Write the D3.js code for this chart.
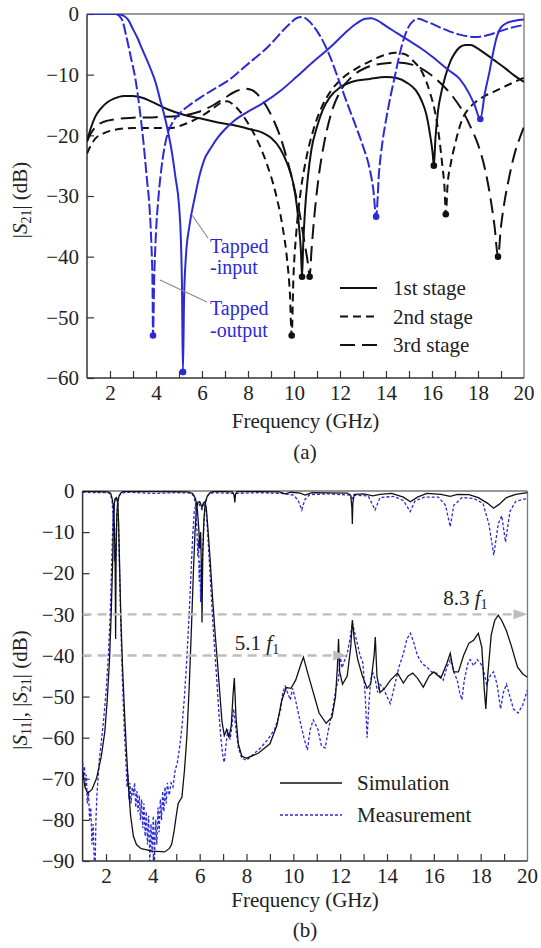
<!DOCTYPE html>
<html><head><meta charset="utf-8">
<script src="https://cdn.jsdelivr.net/npm/d3@7"></script>
<style>
body{margin:0;background:#fff}
svg{display:block}
text{font-family:"Liberation Serif","Times New Roman",serif;fill:#222}
</style>
</head><body>
<svg id="c" width="541" height="948"></svg>
<script>
// ---------- DATA (a) ----------
const tapIn = [[1,0],[2.3,0],[2.6,-0.3],[2.8,-1],[3.0,-2.5],[3.2,-4],[3.4,-5.8],[3.75,-8.9],[4.0,-11.5],[4.17,-14],[4.35,-16.5],[4.5,-19],[4.7,-23],[4.85,-27],[5.0,-31.5],[5.08,-37],[5.13,-45],[5.17,-59],[5.22,-47],[5.3,-40],[5.45,-35],[5.7,-30],[5.9,-26.5],[6.1,-24],[6.4,-22],[6.7,-20.3],[7.0,-19],[7.4,-17.6],[8.0,-16.1],[8.65,-14.7],[9.4,-12.7],[10.1,-10.4],[10.8,-8],[11.6,-5.4],[12.2,-3.2],[12.7,-1.6],[13.1,-0.8],[13.35,-0.7],[13.6,-1],[14.0,-2],[14.5,-3.2],[15.0,-4.4],[15.5,-5.6],[16.0,-7],[16.7,-9.2],[17.2,-10.7],[17.6,-13],[17.85,-15],[18.1,-17.3],[18.3,-13],[18.5,-9.5],[18.65,-6.5],[18.8,-4],[19.0,-2.2],[19.3,-1.4],[19.6,-1.1],[20,-0.9]];
const tapOut = [[1,0],[2.25,0],[2.4,-0.3],[2.55,-1.2],[2.7,-3.5],[2.9,-7],[3.1,-10.6],[3.3,-16],[3.45,-21],[3.6,-27],[3.72,-32],[3.8,-38],[3.85,-45],[3.87,-53],[3.92,-44],[4.0,-36],[4.1,-30.5],[4.25,-25],[4.45,-20.5],[4.7,-18],[5.0,-16.5],[5.5,-14.9],[6.0,-13.6],[6.6,-12.2],[7.2,-10.8],[7.7,-9.2],[8.2,-7.6],[8.65,-6.2],[9.1,-4.5],[9.5,-2.8],[9.85,-1.5],[10.1,-0.7],[10.35,-0.5],[10.6,-1],[10.85,-2],[11.1,-3.4],[11.5,-6.4],[11.9,-10.4],[12.3,-14.6],[12.7,-18.6],[13.0,-21.8],[13.3,-25.7],[13.45,-29],[13.57,-33.4],[13.7,-26],[13.85,-21],[14.0,-17.5],[14.2,-13.5],[14.4,-10],[14.6,-6.5],[14.8,-3.8],[15.0,-2],[15.2,-1.1],[15.4,-0.8],[15.8,-1.3],[16.4,-2.3],[17.2,-3.4],[17.9,-3.8],[18.4,-3.5],[18.9,-2.9],[19.4,-2.3],[20,-1.8]];
const stage1 = [[1,-21],[1.15,-19],[1.35,-17],[1.6,-15.6],[1.9,-14.5],[2.2,-13.9],[2.6,-13.5],[3.0,-13.5],[3.4,-13.8],[3.9,-14.6],[4.5,-15.7],[5.2,-16.6],[5.9,-17.2],[6.6,-17.8],[7.35,-18.3],[8.0,-18.9],[8.65,-19.6],[9.0,-20.4],[9.4,-22.2],[9.7,-24.6],[9.96,-27.8],[10.12,-31.5],[10.23,-35.5],[10.3,-39],[10.35,-43.3],[10.4,-38],[10.48,-32.3],[10.6,-27],[10.75,-22.5],[11.0,-18.6],[11.25,-15.8],[11.56,-13.7],[12.0,-12.1],[12.5,-11.2],[13.3,-10.7],[14.0,-10.4],[14.5,-10.6],[14.9,-11.3],[15.3,-12.6],[15.55,-14.3],[15.75,-16.5],[15.92,-20],[16.03,-23],[16.08,-25],[16.15,-20.5],[16.26,-16],[16.4,-13],[16.57,-10.4],[16.8,-7.8],[17.0,-6.4],[17.2,-5.5],[17.45,-5.1],[17.7,-5.1],[17.95,-5.6],[18.3,-6.5],[18.7,-7.6],[19.2,-9],[19.6,-10.2],[20,-11.2]];
const stage2 = [[1,-23],[1.15,-21.8],[1.35,-20.6],[1.7,-19.7],[2.2,-19.1],[3.0,-18.8],[4.0,-18.8],[4.6,-18.8],[5.35,-18],[6.0,-16.8],[6.5,-15.5],[6.85,-14.6],[7.1,-14.4],[7.35,-14.9],[7.7,-16.3],[8.0,-18],[8.4,-20.8],[8.8,-24.5],[9.2,-29.5],[9.5,-35],[9.7,-40.5],[9.82,-46],[9.9,-53],[9.97,-44],[10.1,-36],[10.3,-29],[10.55,-23.5],[10.85,-19],[11.2,-15.4],[11.6,-12.7],[12.1,-10.6],[12.7,-9],[13.3,-7.8],[13.9,-6.8],[14.4,-6.4],[14.8,-6.6],[15.2,-7.8],[15.6,-9.8],[15.9,-12.8],[16.15,-16.5],[16.3,-20],[16.45,-25],[16.55,-29],[16.6,-33],[16.68,-28],[16.8,-25],[17.0,-21.5],[17.3,-17.5],[17.6,-15.6],[17.9,-14.5],[18.3,-13.5],[18.7,-12.8],[19.3,-11.7],[20,-10.5]];
const stage3 = [[1,-21],[1.15,-19.8],[1.35,-18.7],[1.7,-17.8],[2.3,-17.3],[3.0,-17.1],[4.0,-17],[5.0,-16.8],[5.8,-16.2],[6.5,-15],[7.0,-13.8],[7.5,-12.7],[7.9,-12.3],[8.2,-12.6],[8.5,-13.6],[8.8,-15.2],[9.1,-17.4],[9.4,-20.2],[9.7,-24],[10.0,-28.5],[10.25,-33],[10.45,-37.5],[10.6,-41],[10.68,-43.3],[10.76,-39],[10.88,-33.5],[11.05,-27.5],[11.3,-21.5],[11.6,-16.6],[12.0,-12.8],[12.5,-10.4],[13.1,-8.9],[13.8,-8.2],[14.5,-8],[15.2,-8.4],[15.8,-9.6],[16.4,-11.5],[16.9,-13.6],[17.3,-15.8],[17.7,-18.8],[18.0,-21.5],[18.3,-25.5],[18.55,-30.5],[18.72,-35],[18.87,-40],[19.0,-35],[19.15,-31],[19.35,-27],[19.6,-22.9],[19.8,-20.6],[20,-18.6]];
const blueNulls = [[3.87,-53],[5.17,-59],[13.57,-33.4],[18.1,-17.3]];
const blackNulls = [[9.9,-53],[10.35,-43.3],[10.68,-43.3],[16.08,-25],[16.6,-33],[18.87,-40]];
const legendA = ["1st stage","2nd stage","3rd stage"];
const yTicksA = [-60,-50,-40,-30,-20,-10,0];

// ---------- DATA (b) ----------
const simS11 = [[1,-0.1],[2.1,-0.2],[2.2,-0.6],[2.26,-1.8],[2.32,-4],[2.36,-9],[2.39,-18],[2.41,-36],[2.43,-16],[2.46,-6],[2.5,-2.5],[2.56,-1.2],[2.64,-0.4],[2.75,-0.1],[5.5,-0.2],[5.7,-0.6],[5.82,-1.8],[5.9,-4.5],[5.96,-9],[6.0,-14],[6.04,-10],[6.08,-20],[6.1,-32],[6.13,-16],[6.18,-7],[6.24,-3],[6.32,-1.3],[6.45,-0.4],[6.6,-0.1],[7.4,-0.2],[7.47,-1],[7.5,-2.8],[7.53,-0.8],[7.6,-0.1],[9.4,-0.2],[9.65,-0.7],[9.9,-0.3],[10.3,-0.5],[10.5,-1],[10.8,-0.4],[12.3,-0.5],[12.45,-1],[12.5,-4],[12.52,-8],[12.54,-3],[12.6,-0.8],[13.0,-0.7],[13.4,-1.2],[13.7,-0.8],[14.2,-0.6],[14.7,-1.5],[15.0,-2.6],[15.3,-1.5],[15.7,-0.6],[16.3,-0.8],[16.7,-1.3],[17.0,-0.8],[17.5,-0.9],[17.9,-1.6],[18.3,-3],[18.55,-4.2],[18.8,-3.2],[19.1,-1.6],[19.5,-0.8],[20,-0.4]];
const meaS11 = [[1,-0.3],[1.5,-0.4],[2.1,-0.4],[2.2,-0.8],[2.26,-2.5],[2.3,-6],[2.33,-12],[2.36,-17],[2.39,-13],[2.42,-16],[2.45,-8],[2.5,-3],[2.56,-1.2],[2.65,-0.5],[3,-0.3],[4,-0.6],[5,-0.4],[5.6,-0.5],[5.75,-1.2],[5.83,-3.5],[5.88,-9],[5.92,-16],[5.95,-12],[5.98,-22],[6.01,-17],[6.04,-27],[6.07,-19],[6.1,-24],[6.13,-14],[6.17,-9],[6.22,-4],[6.3,-1.6],[6.4,-0.7],[6.6,-0.4],[7.5,-0.6],[8.5,-0.4],[9.5,-0.6],[10.0,-1],[10.2,-2.2],[10.36,-4.6],[10.5,-2],[10.7,-0.9],[11.5,-0.7],[12.4,-1],[12.52,-1.8],[12.6,-1],[13.2,-1.2],[13.49,-4.6],[13.7,-1.6],[14.3,-1.3],[14.7,-2.3],[14.99,-5],[15.2,-2.4],[15.6,-1.5],[16.2,-1.5],[16.5,-3.5],[16.7,-8.7],[16.85,-3.5],[17.2,-1.6],[17.7,-1.8],[18.1,-3],[18.35,-8],[18.56,-15.6],[18.75,-8],[18.9,-6],[19.06,-12.4],[19.25,-5],[19.5,-2.5],[20,-1.8]];
const simS21 = [[1,-68],[1.1,-72],[1.22,-73.5],[1.4,-72.6],[1.6,-69.8],[1.8,-64.5],[1.95,-58.5],[2.05,-51],[2.15,-41],[2.22,-30],[2.28,-18],[2.32,-8],[2.36,-3],[2.4,-1.8],[2.45,-1.6],[2.5,-2.5],[2.54,-8],[2.58,-18],[2.63,-30],[2.7,-42],[2.8,-55],[2.88,-64],[2.95,-71],[3.05,-79],[3.17,-84],[3.3,-86],[3.5,-87],[4.0,-87.6],[4.5,-87.8],[4.7,-87],[4.8,-86],[4.9,-83],[5.0,-79],[5.08,-76],[5.24,-74.5],[5.35,-68],[5.45,-60],[5.55,-48],[5.65,-33],[5.73,-20],[5.8,-10],[5.86,-4.5],[5.92,-2.8],[6.0,-2.6],[6.06,-3.4],[6.1,-4],[6.15,-3],[6.22,-2.6],[6.28,-4],[6.35,-9],[6.45,-17],[6.55,-26],[6.65,-34],[6.75,-41],[6.87,-50],[6.95,-56],[7.05,-59.5],[7.15,-58],[7.25,-60],[7.35,-57],[7.42,-50],[7.48,-45.5],[7.55,-55],[7.65,-61.5],[7.8,-64.5],[8.0,-65],[8.5,-63.8],[9.0,-61.5],[9.3,-57],[9.5,-51],[9.7,-47.8],[9.9,-48],[10.1,-46],[10.3,-42.5],[10.43,-40.4],[10.6,-44],[10.85,-49],[11.1,-54],[11.4,-56.5],[11.65,-55],[11.8,-50],[11.88,-43],[11.93,-36],[11.98,-44],[12.1,-47],[12.3,-45],[12.45,-38],[12.52,-31.4],[12.6,-36],[12.75,-41],[12.95,-45],[13.15,-48],[13.3,-47],[13.45,-40],[13.5,-35.5],[13.57,-45],[13.7,-49],[13.9,-48],[14.15,-46],[14.45,-44.3],[14.7,-46.7],[14.9,-45],[15.1,-44.3],[15.3,-45.5],[15.55,-47.7],[15.8,-45],[16.0,-44],[16.3,-45.5],[16.55,-42],[16.7,-39.5],[16.85,-44],[17.05,-44],[17.27,-40],[17.5,-37],[17.7,-36.3],[17.9,-34.6],[18.05,-38],[18.15,-48],[18.22,-53],[18.3,-45],[18.45,-35],[18.6,-31.5],[18.75,-30.2],[18.9,-31.5],[19.1,-34],[19.3,-37.5],[19.57,-42.8],[19.8,-44.5],[20,-45.3]];
const meaS21 = [[1,-66],[1.04,-70],[1.08,-67],[1.12,-72],[1.16,-69],[1.2,-76],[1.25,-73],[1.3,-80],[1.35,-77],[1.4,-86],[1.45,-81],[1.5,-90],[1.54,-90],[1.57,-80],[1.61,-74],[1.66,-70],[1.72,-65],[1.8,-61],[1.9,-55.5],[2.0,-49],[2.1,-40],[2.18,-30],[2.25,-16],[2.3,-6],[2.35,-2.5],[2.4,-1.8],[2.45,-1.8],[2.5,-3],[2.54,-10],[2.58,-20],[2.63,-32],[2.7,-46],[2.78,-58],[2.85,-66],[2.9,-72],[2.94,-69],[2.98,-75],[3.02,-71],[3.07,-76],[3.12,-72],[3.17,-74],[3.22,-71],[3.27,-77],[3.32,-73],[3.37,-78],[3.42,-74],[3.47,-80],[3.52,-75],[3.57,-82],[3.62,-76],[3.67,-84],[3.72,-78],[3.77,-86],[3.82,-79],[3.87,-90],[3.92,-81],[3.97,-88],[4.02,-79],[4.07,-90],[4.12,-80],[4.17,-86],[4.22,-77],[4.27,-83],[4.32,-75],[4.37,-80],[4.42,-73],[4.47,-78],[4.52,-72],[4.57,-76],[4.62,-71],[4.7,-74],[4.78,-71],[4.86,-72],[4.95,-68],[5.05,-66],[5.15,-62],[5.25,-57],[5.35,-50],[5.45,-41],[5.55,-30],[5.63,-20],[5.7,-11],[5.77,-5],[5.84,-3],[5.9,-2.7],[5.97,-3],[6.03,-4],[6.1,-4.5],[6.16,-3.2],[6.22,-3],[6.28,-5],[6.34,-10],[6.42,-18],[6.52,-28],[6.62,-37],[6.72,-45],[6.82,-54],[6.92,-61],[7.0,-65],[7.05,-66],[7.12,-62],[7.2,-58],[7.3,-60.5],[7.38,-57],[7.45,-53],[7.55,-58],[7.65,-62.5],[7.8,-65],[8.0,-65.5],[8.3,-64],[8.6,-62.5],[8.9,-60.5],[9.2,-58],[9.45,-53.5],[9.55,-49],[9.65,-47.5],[9.75,-49],[9.87,-50.8],[9.97,-48],[10.1,-51],[10.25,-55],[10.45,-60],[10.6,-63],[10.72,-58],[10.85,-55.7],[11.05,-58],[11.2,-62],[11.36,-62.5],[11.5,-58],[11.7,-52.5],[11.82,-48],[11.93,-46],[12.0,-40],[12.08,-43],[12.2,-41],[12.3,-39.5],[12.42,-36],[12.52,-32],[12.6,-34],[12.7,-36.3],[12.85,-40],[12.97,-41.8],[13.07,-50],[13.15,-60],[13.22,-52.5],[13.3,-46],[13.4,-44.3],[13.5,-46],[13.6,-49],[13.7,-47],[13.85,-48],[14.0,-50],[14.14,-51.7],[14.3,-48],[14.5,-43],[14.7,-39.5],[14.85,-36],[15.0,-34.6],[15.15,-37],[15.3,-40],[15.5,-42],[15.7,-42.8],[15.9,-44],[16.1,-44.3],[16.25,-45],[16.4,-46],[16.55,-43],[16.7,-41],[16.85,-44],[17.0,-46],[17.1,-49],[17.2,-50.8],[17.3,-46],[17.45,-42],[17.55,-41],[17.7,-42.5],[17.85,-41],[17.98,-41.8],[18.1,-43],[18.25,-47],[18.4,-45],[18.55,-44],[18.7,-47],[18.85,-53],[18.97,-49],[19.1,-47],[19.25,-50],[19.4,-53],[19.6,-54],[19.8,-52],[20,-48.4]];
const arrowLevels = [-30,-40];
const arrowEnds = [20,12.3];
const arrowLabels = ["8.3","5.1"];
const arrowLabelPos = [[16.4,-27.7],[7.5,-38.7]];
const legendB = ["Simulation","Measurement"];
const yTicksB = [-90,-80,-70,-60,-50,-40,-30,-20,-10,0];
const xTickVals = d3.range(2,20);

// ---------- DRAW ----------
const svg = d3.select("#c");
const BLUE = "#2b2bd6";
const FS = 21;

function panel(xr, yr, ydom, yticks, id){
  const x = d3.scaleLinear([1,20], xr);
  const y = d3.scaleLinear(ydom, yr);
  const g = svg.append("g");
  g.append("clipPath").attr("id",id).append("rect")
    .attr("x",xr[0]).attr("y",yr[1]).attr("width",xr[1]-xr[0]).attr("height",yr[0]-yr[1]);
  const ax = g.append("g").attr("transform",`translate(0,${yr[0]})`)
    .call(d3.axisBottom(x).tickValues(xTickVals).tickSizeInner(-7).tickSizeOuter(0).tickPadding(7)
      .tickFormat(d=> d%2===0 ? d : ""));
  ax.select(".domain").remove();
  ax.selectAll("line").attr("stroke","#333").attr("stroke-width",1.2);
  ax.selectAll("text").attr("font-size",FS).attr("fill","#222").attr("font-family","Liberation Serif");
  const ay = g.append("g").attr("transform",`translate(${xr[0]},0)`)
    .call(d3.axisLeft(y).tickValues(yticks).tickSizeInner(-7).tickSizeOuter(0).tickPadding(8));
  ay.select(".domain").remove();
  ay.selectAll("line").attr("stroke","#333").attr("stroke-width",1.2);
  ay.selectAll("text").attr("font-size",FS).attr("fill","#222").attr("font-family","Liberation Serif");
  // 20 label on x
  g.append("text").attr("x",x(20)).attr("y",yr[0]+7+FS*0.71).attr("text-anchor","middle")
    .attr("font-size",FS).text("20");
  // frame
  g.append("line").attr("x1",xr[0]).attr("x2",xr[1]).attr("y1",yr[1]).attr("y2",yr[1]).attr("stroke","#777").attr("stroke-width",1.3);
  g.append("line").attr("x1",xr[1]).attr("x2",xr[1]).attr("y1",yr[1]).attr("y2",yr[0]).attr("stroke","#777").attr("stroke-width",1.3);
  g.append("line").attr("x1",xr[0]).attr("x2",xr[1]).attr("y1",yr[0]).attr("y2",yr[0]).attr("stroke","#333").attr("stroke-width",1.5);
  g.append("line").attr("x1",xr[0]).attr("x2",xr[0]).attr("y1",yr[1]).attr("y2",yr[0]).attr("stroke","#333").attr("stroke-width",1.5);
  const plot = g.append("g").attr("clip-path",`url(#${id})`);
  return {x,y,g,plot};
}

// ===== Panel (a) =====
const A = panel([87,524],[378,14],[-60,0],yTicksA,"clipA");
const lineA = d3.line().x(d=>A.x(d[0])).y(d=>A.y(d[1])).curve(d3.curveMonotoneX);
const seriesA = [
  {d:stage3, c:"#111", dash:"15,7", w:2},
  {d:stage2, c:"#111", dash:"8,5", w:2},
  {d:stage1, c:"#111", dash:null, w:2},
  {d:tapOut, c:BLUE, dash:"11,3", w:2},
  {d:tapIn, c:BLUE, dash:null, w:2}
];
seriesA.forEach(s=>{
  A.plot.append("path").datum(s.d).attr("d",lineA).attr("fill","none")
    .attr("stroke",s.c).attr("stroke-width",s.w).attr("stroke-dasharray",s.dash);
});
A.plot.selectAll(".bn").data(blueNulls).join("circle").attr("cx",d=>A.x(d[0])).attr("cy",d=>A.y(d[1])).attr("r",3.3).attr("fill",BLUE);
A.g.selectAll(".kn").data(blackNulls).join("circle").attr("cx",d=>A.x(d[0])).attr("cy",d=>A.y(d[1])).attr("r",3.3).attr("fill","#111");
A.g.append("circle").attr("cx",A.x(5.17)).attr("cy",A.y(-59)).attr("r",3.3).attr("fill",BLUE);

// annotations
A.g.append("line").attr("x1",192).attr("y1",215).attr("x2",208).attr("y2",238).attr("stroke","#888").attr("stroke-width",1.1);
A.g.append("line").attr("x1",160).attr("y1",280).attr("x2",207).attr("y2",302).attr("stroke","#888").attr("stroke-width",1.1);
[["Tapped",210,253],["-input",210,274],["Tapped",210,315],["-output",210,337]].forEach(t=>{
  A.g.append("text").attr("x",t[1]).attr("y",t[2]).attr("font-size",20).attr("fill",BLUE).style("fill",BLUE).text(t[0]);
});
// legend (a)
const dashA = [null,"8,5","15,7"];
legendA.forEach((t,i)=>{
  const yy = 288 + i*28.5;
  A.g.append("line").attr("x1",340).attr("x2",377).attr("y1",yy).attr("y2",yy)
    .attr("stroke","#111").attr("stroke-width",2).attr("stroke-dasharray",dashA[i]);
  A.g.append("text").attr("x",393).attr("y",yy+7).attr("font-size",FS).text(t);
});
// axis titles (a)
A.g.append("text").attr("x",A.x(10.5)).attr("y",428).attr("text-anchor","middle").attr("font-size",FS).text("Frequency (GHz)");
A.g.append("text").attr("x",305).attr("y",459).attr("text-anchor","middle").attr("font-size",FS).text("(a)");
const yla = A.g.append("text").attr("transform","translate(27,200) rotate(-90)").attr("text-anchor","middle").attr("font-size",FS);
yla.append("tspan").text("|");
yla.append("tspan").attr("font-style","italic").text("S");
yla.append("tspan").attr("font-size",14).attr("dy",4).text("21");
yla.append("tspan").attr("dy",-4).text("| (dB)");

// ===== Panel (b) =====
const B = panel([82.6,527.5],[861,491],[-90,0],yTicksB,"clipB");
const lineB = d3.line().x(d=>B.x(d[0])).y(d=>B.y(d[1]));
// arrows
arrowLevels.forEach((lv,i)=>{
  const yy = B.y(lv), xe = B.x(arrowEnds[i]);
  B.g.append("line").attr("x1",B.x(1)).attr("x2",xe-12).attr("y1",yy).attr("y2",yy)
    .attr("stroke","#bdbdbd").attr("stroke-width",2.4).attr("stroke-dasharray","9,6");
  B.g.append("path").attr("d",`M${xe-14},${yy-5}L${xe},${yy}L${xe-14},${yy+5}Z`).attr("fill","#bdbdbd");
  const p = arrowLabelPos[i];
  const t = B.g.append("text").attr("x",B.x(p[0])).attr("y",B.y(p[1])).attr("font-size",FS);
  t.append("tspan").text(arrowLabels[i]+" ");
  t.append("tspan").attr("font-style","italic").text("f");
  t.append("tspan").attr("font-size",14).attr("dy",4).text("1");
});
B.plot.append("path").datum(meaS21).attr("d",lineB).attr("fill","none").attr("stroke",BLUE).attr("stroke-width",1.3).attr("stroke-dasharray","3,2");
B.plot.append("path").datum(simS21).attr("d",lineB).attr("fill","none").attr("stroke","#111").attr("stroke-width",1.3);
B.plot.append("path").datum(meaS11).attr("d",lineB).attr("fill","none").attr("stroke",BLUE).attr("stroke-width",1.3).attr("stroke-dasharray","3,2");
B.plot.append("path").datum(simS11).attr("d",lineB).attr("fill","none").attr("stroke","#111").attr("stroke-width",1.3);
// legend (b)
legendB.forEach((t,i)=>{
  const yy = 783 + i*32;
  B.g.append("line").attr("x1",280).attr("x2",342).attr("y1",yy).attr("y2",yy)
    .attr("stroke", i? BLUE : "#111").attr("stroke-width",1.4).attr("stroke-dasharray", i? "3,2": null);
  B.g.append("text").attr("x",357).attr("y",yy+7).attr("font-size",FS).text(t);
});
B.g.append("text").attr("x",B.x(10.5)).attr("y",907).attr("text-anchor","middle").attr("font-size",FS).text("Frequency (GHz)");
B.g.append("text").attr("x",305).attr("y",937).attr("text-anchor","middle").attr("font-size",FS).text("(b)");
const ylb = B.g.append("text").attr("transform","translate(27,690) rotate(-90)").attr("text-anchor","middle").attr("font-size",FS);
ylb.append("tspan").text("|");
ylb.append("tspan").attr("font-style","italic").text("S");
ylb.append("tspan").attr("font-size",14).attr("dy",4).text("11");
ylb.append("tspan").attr("dy",-4).text("|, |");
ylb.append("tspan").attr("font-style","italic").text("S");
ylb.append("tspan").attr("font-size",14).attr("dy",4).text("21");
ylb.append("tspan").attr("dy",-4).text("|  (dB)");
</script>
</body></html>
